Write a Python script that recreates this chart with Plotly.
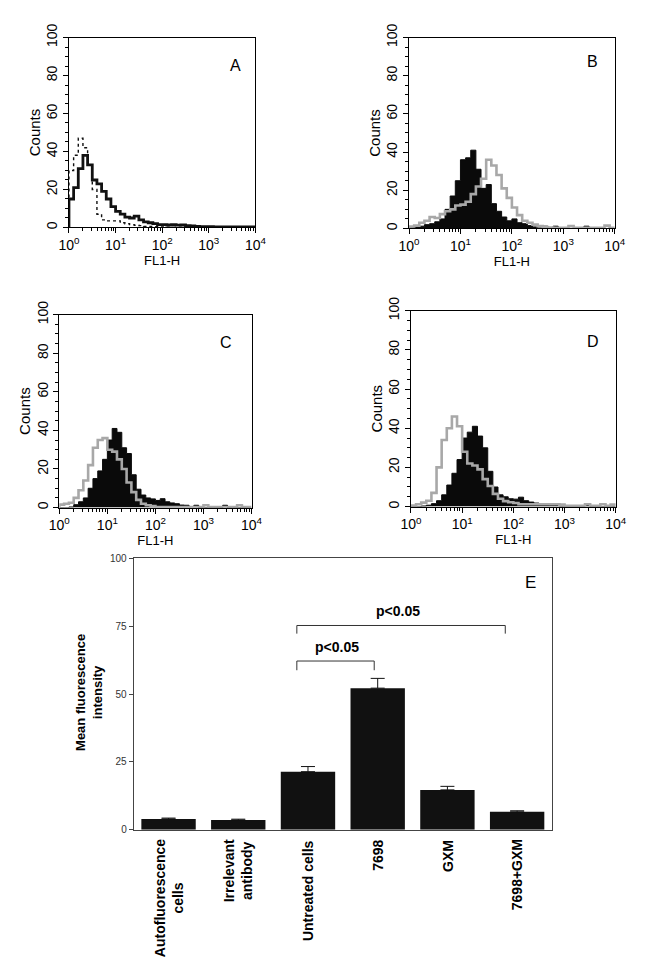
import plotly.graph_objects as go

# ---------------- data ----------------
# histogram bins: log10(FL1-H) from 0 to 4 in 0.1-decade steps (40 bins)
bin_edges_log = [i / 10 for i in range(41)]

A_black = [15, 21, 31, 38, 33, 25, 23, 19, 15, 11,
           8.5, 7, 5.5, 5, 6, 4, 3, 2.5, 2, 1.5,
           1.5, 1.3, 1.5, 1.2, 1.3, 1, 0.8, 0.6, 0.5, 0.4,
           0.4, 0.3, 0.3, 0.3, 0.3, 0.3, 0.3, 0.3, 0.3, 0.3]
A_dotted = [30, 38, 47, 42, 33, 20, 7, 4, 3.5, 3.5,
            3.5, 2.5, 2, 1.5, 1.2, 1, 0.6, 0.5, 0.4, 0.3,
            0.3, 0.2, 0.2, 0.2, 0.2, 0.2, 0.2, 0.2, 0.2, 0.2,
            0.2, 0.2, 0.2, 0.2, 0.2, 0.2, 0.2, 0.2, 0.2, 0.2]

B_black = [0.3, 0.8, 1.2, 2, 2.5, 3.5, 5, 10, 17, 25,
           36, 37, 41, 31, 21, 23, 13, 9, 6, 4,
           5, 3, 2.5, 1.5, 0.8, 0.3, 1.2, 0, 1.2, 0,
           0, 0, 0, 0, 1.2, 0, 0, 0, 0, 0]
B_gray = [1, 1.5, 3, 4, 6, 5.5, 7.5, 9, 10, 12,
          12.5, 14, 18, 22, 26, 36, 33, 28, 21, 16,
          11, 7, 4, 3, 2, 1.2, 0.8, 0.5, 0.3, 0.3,
          0.3, 1.2, 0.3, 0.3, 0.3, 0.3, 0.3, 0.3, 1.5, 0.3]

C_black = [0, 0, 0.3, 1.5, 3, 5, 10, 15, 19, 25,
           35, 41, 39, 31, 28, 17, 9.5, 6.5, 5, 4.5,
           3.7, 4.6, 3, 2.4, 2, 1.3, 1.2, 0.5, 1.2, 0,
           0, 0, 0, 0, 1.2, 0, 0, 0, 0, 0]
C_gray = [1.5, 2, 2.5, 5, 9, 14, 22, 31, 35, 36,
          30, 29, 25, 20, 13, 8, 4, 2, 1.2, 0.8,
          0.3, 0.3, 0.3, 0.3, 0.3, 0.3, 0.3, 0.3, 0.3, 0.3,
          1.2, 0.3, 0.3, 0.3, 0.3, 0.3, 0.3, 1.2, 0.3, 0.3]

D_black = [0, 0, 0.3, 0.7, 1.5, 3, 6, 11, 17, 24,
           35, 38, 41, 36, 30, 18, 10, 6, 5, 4,
           3.8, 4.8, 3, 2.3, 1.8, 1.5, 1, 0.6, 1, 0.3,
           0.3, 0.3, 0.3, 0.3, 1.5, 0, 0, 0, 0, 0]
D_gray = [0.5, 1.2, 2, 3, 7, 20, 34, 40, 46, 41,
          28, 22, 21, 19, 14, 10.5, 6.5, 4, 2.8, 2.2,
          1.8, 1.2, 1.2, 1.2, 1.2, 1.2, 1.2, 1.2, 1.2, 1.0,
          0.4, 0.4, 0.4, 0.4, 1.2, 0.4, 0.4, 1.2, 0.4, 1.0]

decade_vals = [1, 10, 100, 1000, 10000]
decade_labels = ["10<sup>0</sup>", "10<sup>1</sup>", "10<sup>2</sup>",
                 "10<sup>3</sup>", "10<sup>4</sup>"]
minor_vals = [m * d for d in [1, 10, 100, 1000] for m in range(2, 10)]

# bar chart E
categories = ["Autofluorescence<br>cells", "Irrelevant<br>antibody",
              "Untreated cells", "7698", "GXM", "7698+GXM"]
mfi = [4.0, 3.6, 21.4, 52.2, 14.7, 6.6]
mfi_err = [0.3, 0.3, 1.9, 3.6, 1.3, 0.4]
# significance brackets (x positions in category index units, height in MFI units)
bracket_x0 = [1.84, 1.84]
bracket_x1 = [2.95, 4.83]
bracket_y = [62.2, 75.3]
bracket_drop = [3.4, 3.0]
bracket_text = ["p<0.05", "p<0.05"]
bracket_text_x = [2.42, 3.29]
bracket_text_y = [67.5, 80.5]

# ---------------- figure ----------------
W, H = 648, 966
FONT = "Liberation Sans, Arial, sans-serif"

fig = go.Figure()


def step(counts):
    xs = [10 ** bin_edges_log[0]] + [10 ** e for e in bin_edges_log]
    ys = [0] + list(counts) + [counts[-1]]
    return xs, ys


def add_hist(counts, ax, kind):
    xs, ys = step(counts)
    kw = dict(x=xs, y=ys, mode="lines", line_shape="hv", showlegend=False,
              hoverinfo="skip", xaxis="x" + ax, yaxis="y" + ax)
    if kind == "filled":
        fig.add_trace(go.Scatter(**kw, fill="tozeroy", fillcolor="#0a0a0a",
                                 line=dict(color="#0a0a0a", width=1)))
    elif kind == "gray":
        fig.add_trace(go.Scatter(**kw, line=dict(color="#a8a8a8", width=2.6)))
    elif kind == "black":
        fig.add_trace(go.Scatter(**kw, line=dict(color="#111111", width=2.8)))
    elif kind == "dotted":
        fig.add_trace(go.Scatter(**kw, line=dict(color="#111111", width=1.4, dash="dot")))


add_hist(A_dotted, "", "dotted")
add_hist(A_black, "", "black")
add_hist(B_black, "2", "filled")
add_hist(B_gray, "2", "gray")
add_hist(C_black, "3", "filled")
add_hist(C_gray, "3", "gray")
add_hist(D_black, "4", "filled")
add_hist(D_gray, "4", "gray")

cat_pos = list(range(len(categories)))

fig.add_trace(go.Bar(
    x=cat_pos, y=mfi, xaxis="x5", yaxis="y5", width=0.78,
    marker=dict(color="#111111", line=dict(width=0)), showlegend=False,
    error_y=dict(type="data", array=mfi_err, arrayminus=[0] * len(mfi_err),
                 symmetric=False, color="#111111", thickness=1, width=7),
))

for x0, x1, yb, dr in zip(bracket_x0, bracket_x1, bracket_y, bracket_drop):
    fig.add_trace(go.Scatter(
        x=[x0, x0, x1, x1], y=[yb - dr, yb, yb, yb - dr], mode="lines",
        line=dict(color="#333333", width=1), xaxis="x5", yaxis="y5",
        showlegend=False, hoverinfo="skip"))

# panel domains (paper fractions)
dom = {
    "": ([60 / W, 253 / W], [1 - 218 / H, 1 - 24 / H]),
    "2": ([412 / W, 625 / W], [1 - 219 / H, 1 - 24 / H]),
    "3": ([50 / W, 249 / W], [1 - 504 / H, 1 - 307 / H]),
    "4": ([414 / W, 626 / W], [1 - 503 / H, 1 - 303 / H]),
}

layout = dict(
    width=W, height=H, margin=dict(l=0, r=0, t=0, b=0),
    paper_bgcolor="white", plot_bgcolor="white",
    font=dict(family=FONT, color="black"),
    showlegend=False,
)

for ax, (dx, dy) in dom.items():
    xname = "xaxis" + ax
    yname = "yaxis" + ax
    layout[xname] = dict(
        domain=dx, type="log", range=[0, 4], anchor="y" + ax,
        tickmode="array", tickvals=decade_vals, ticktext=decade_labels,
        ticks="outside", ticklen=5, tickwidth=1, tickcolor="black",
        minor=dict(tickmode="array", tickvals=minor_vals, ticks="outside",
                   ticklen=3, tickwidth=1, tickcolor="black", showgrid=False),
        showline=True, linecolor="black", linewidth=1, mirror=True,
        showgrid=False, zeroline=False,
        tickfont=dict(family=FONT, size=14, color="black"),
        title=dict(text="FL1-H", font=dict(family=FONT, size=13, color="black"), standoff=0),
    )
    layout[yname] = dict(
        domain=dy, range=[0, 100], anchor="x" + ax,
        tick0=0, dtick=20, ticks="outside", ticklen=5, tickwidth=1, tickcolor="black",
        tickangle=-90,
        minor=dict(tick0=0, dtick=5, ticks="outside", ticklen=3, tickwidth=1,
                   tickcolor="black", showgrid=False),
        showline=True, linecolor="black", linewidth=1, mirror=True,
        showgrid=False, zeroline=False,
        tickfont=dict(family=FONT, size=14, color="black"),
        title=dict(text="Counts", font=dict(family=FONT, size=15, color="black"), standoff=0),
    )

layout["xaxis5"] = dict(
    domain=[127 / W, 560 / W], anchor="y5", range=[-0.5, 5.5],
    showticklabels=False, ticks="", showline=True, linecolor="#444444",
    linewidth=1, mirror=True, showgrid=False, zeroline=False,
)
layout["yaxis5"] = dict(
    domain=[1 - 833 / H, 1 - 556 / H], anchor="x5", range=[0, 100],
    tickvals=[0, 25, 50, 75, 100], ticks="outside", ticklen=4, tickcolor="#444444",
    showline=True, linecolor="#444444", linewidth=1, mirror=True,
    showgrid=False, zeroline=False,
    tickfont=dict(family=FONT, size=10, color="#333333"),
)

annotations = []
for letter, px, py in [("A", 232, 53), ("B", 602, 49), ("C", 223, 335), ("D", 602, 334), ("E", 538, 581)]:
    annotations.append(dict(text=letter, x=px / W, y=1 - py / H, xref="paper", yref="paper",
                            xanchor="center", yanchor="middle", showarrow=False,
                            font=dict(family=FONT, size=17 if letter == "E" else 16, color="black")))

for pos, cat in zip(cat_pos, categories):
    annotations.append(dict(text="<b>" + cat + "</b>", x=pos, xref="x5", y=1 - 841 / H, yref="paper",
                            xanchor="center", yanchor="top", textangle=-90, showarrow=False,
                            align="center",
                            font=dict(family=FONT, size=14, color="black")))

for t, tx, ty in zip(bracket_text, bracket_text_x, bracket_text_y):
    annotations.append(dict(text="<b>" + t + "</b>", x=tx, y=ty, xref="x5", yref="y5",
                            showarrow=False, xanchor="center", yanchor="middle",
                            font=dict(family=FONT, size=14, color="black")))

annotations.append(dict(text="<b>Mean fluorescence<br>intensity</b>", x=80 / W, y=1 - 693 / H,
                        xref="paper", yref="paper", textangle=-90, showarrow=False,
                        xanchor="center", yanchor="middle", align="center",
                        font=dict(family=FONT, size=13, color="black")))

layout["annotations"] = annotations
fig.update_layout(**layout)

fig.write_html("out.html", config={"displayModeBar": False},
               post_script="document.body.style.margin='0';")
